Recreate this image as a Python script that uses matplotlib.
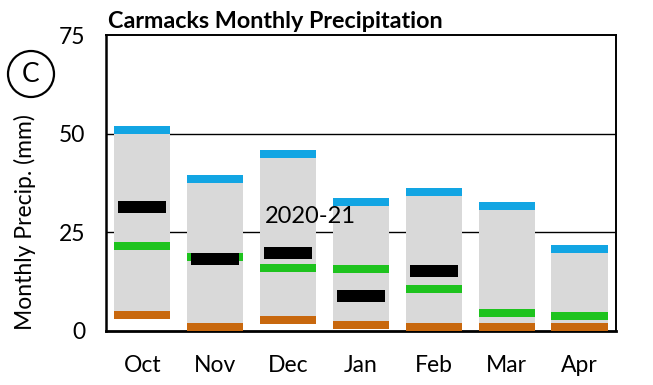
import matplotlib
matplotlib.use("Agg")
from matplotlib import pyplot as plt
from matplotlib.patches import Circle
import numpy as np

months = ['Oct', 'Nov', 'Dec', 'Jan', 'Feb', 'Mar', 'Apr']
max_precip = [51.9, 39.5, 45.8, 33.7, 36.2, 32.7, 21.8]
min_precip = [3.0, 0.0, 1.8, 0.6, 0.0, 0.0, 0.0]
median_precip = [21.5, 18.8, 16.0, 15.7, 10.6, 4.6, 3.8]
precip_2020_21 = [31.4, 18.2, 19.8, 8.9, 15.2]

plt.rcParams['font.family'] = ['Lato', 'DejaVu Sans']

fig = plt.figure(figsize=(6.53, 3.85), dpi=100)
ax = fig.add_axes([0.1623, 0.1403, 0.781, 0.7687])

x = np.arange(len(months))
w = 0.77
band = 2.0
mx = np.array(max_precip)
mn = np.array(min_precip)
md = np.array(median_precip)

# grey range bar
ax.bar(x, mx - mn, bottom=mn, width=w, color='#d9d9d9', zorder=2)
# max band (blue), min band (orange), median band (green)
ax.bar(x, band, bottom=mx - band, width=w, color='#12a5e3', zorder=3)
ax.bar(x, band, bottom=mn, width=w, color='#c8680e', zorder=3)
ax.bar(x, band, bottom=md - band / 2, width=w, color='#1ec31e', zorder=3)
# 2020-21 black bars
xb = np.arange(len(precip_2020_21))
ax.bar(xb, 3.1, bottom=np.array(precip_2020_21) - 1.55, width=0.66,
       color='black', zorder=4)

ax.text(2.31, 28.9, '2020-21', fontsize=17, ha='center', va='center', zorder=5)

ax.set_xlim(-0.5, 6.5)
ax.set_ylim(0, 75)
ax.set_yticks([0, 25, 50, 75])
ax.set_xticks(x)
ax.set_xticklabels(months)
ax.tick_params(axis='both', length=0, labelsize=16.5)
ax.tick_params(axis='y', pad=15)
ax.tick_params(axis='x', pad=17)
for yv in [25, 50]:
    ax.axhline(yv, color='black', lw=1, zorder=1)
for s in ['right', 'top']:
    ax.spines[s].set_linewidth(1.4)
ax.spines['bottom'].set_linewidth(2)
ax.spines['left'].set_linewidth(1.8)

fig.text(25 / 653, 1 - 222 / 385, 'Monthly Precip. (mm)', fontsize=16.5,
         rotation=90, ha='center', va='center')
fig.text(108 / 653, 1 - 22 / 385, 'Carmacks Monthly Precipitation',
         fontsize=16.8, fontweight='bold', ha='left', va='center')

circ = Circle((31, 385 - 74), 23, transform=None, fill=False, lw=1.6,
              edgecolor='black')
fig.patches.append(circ)
fig.text(31 / 653, 1 - 74 / 385, 'C', fontsize=19, ha='center', va='center')

fig.savefig('out.png', dpi=100)
